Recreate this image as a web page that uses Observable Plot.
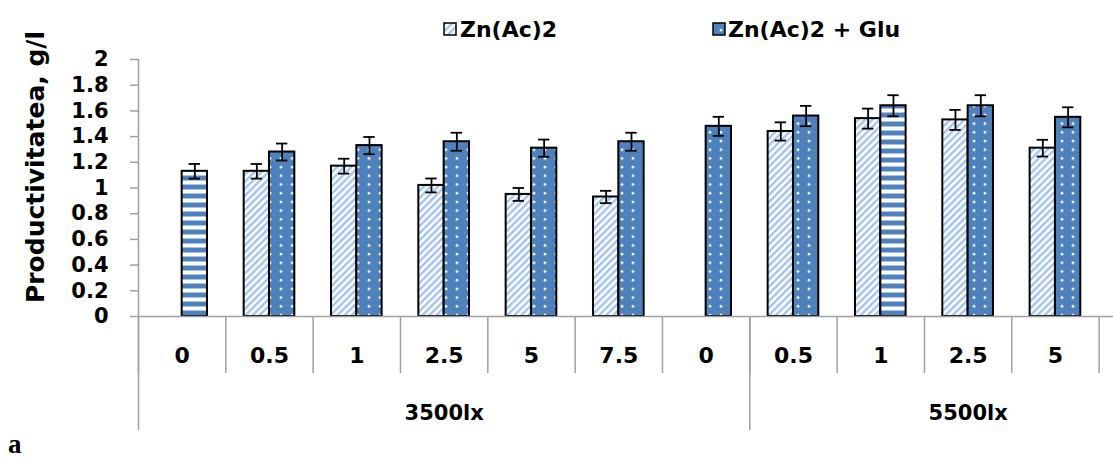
<!DOCTYPE html>
<html>
<head>
<meta charset="utf-8">
<script src="https://cdn.jsdelivr.net/npm/d3@7"></script>
<script src="https://cdn.jsdelivr.net/npm/@observablehq/plot@0.6"></script>
<style>
  html, body { margin: 0; padding: 0; background: #fff; overflow: hidden; }
  #wrap { position: relative; width: 1113px; height: 459px; overflow: hidden; }
  #legend, #chart, #caption { display: block; }
  #caption { height: 29px; }
  #chart svg { display: block; overflow: visible; }
</style>
</head>
<body>
<svg width="0" height="0" style="position:absolute">
  <defs>
    <pattern id="diag" patternUnits="userSpaceOnUse" width="5" height="5" patternTransform="rotate(45)">
      <rect width="5" height="5" fill="#ffffff"/>
      <rect width="2.4" height="5" fill="#a2c3ee"/>
    </pattern>
    <pattern id="dots" patternUnits="userSpaceOnUse" width="11" height="8.7">
      <rect width="11" height="8.7" fill="#4f81bd"/>
      <circle cx="6" cy="4" r="1.4" fill="#ffffff" fill-opacity="0.9"/>
    </pattern>
    <pattern id="hstripe" patternUnits="userSpaceOnUse" width="10" height="9">
      <rect width="10" height="9" fill="#ffffff"/>
      <rect y="0" width="10" height="4" fill="#4f81bd"/>
      <rect y="4" width="10" height="1" fill="#a9c3e4"/>
      <rect y="8" width="10" height="1" fill="#a9c3e4"/>
    </pattern>
  </defs>
</svg>
<div id="wrap">
  <div id="legend"></div>
  <div id="chart"></div>
  <div id="caption"></div>
</div>
<script>
// ---- data ----
const categories = ["0", "0.5", "1", "2.5", "5", "7.5", "0", "0.5", "1", "2.5", "5", "7.5"];
const groups = ["3500lx", "3500lx", "3500lx", "3500lx", "3500lx", "3500lx", "3500lx",
                "5500lx", "5500lx", "5500lx", "5500lx", "5500lx"];
const seriesNames = ["Zn(Ac)2", "Zn(Ac)2 + Glu"];
const znValues  = [null, 1.13, 1.17, 1.02, 0.95, 0.93, null, 1.44, 1.54, 1.53, 1.31, null];
const znErrors  = [null, 0.057, 0.058, 0.054, 0.05, 0.048, null, 0.071, 0.078, 0.078, 0.065, null];
const gluValues = [1.13, 1.28, 1.33, 1.36, 1.31, 1.36, 1.48, 1.56, 1.64, 1.64, 1.55, null];
const gluErrors = [0.057, 0.066, 0.067, 0.07, 0.067, 0.07, 0.074, 0.079, 0.082, 0.082, 0.078, null];
const yTicks = [0, 0.2, 0.4, 0.6, 0.8, 1, 1.2, 1.4, 1.6, 1.8, 2];
const yLabel = "Productivitatea, g/l";
const panelLabel = "a";

// ---- styling ----
const FONT = "DejaVu Sans";
const AXIS = "#a0a0a0";
const stripedGluIndex = [0, 8];  // Excel per-point pattern overrides
const BW = 0.29;                  // bar width in category units
const STEP = 87.33;               // pixels per category

const N = categories.length;
const rows = [];
for (let i = 0; i < N; i++) {
  if (znValues[i] != null) rows.push({i, s: 0, v: znValues[i], e: znErrors[i], fill: "url(#diag)"});
  if (gluValues[i] != null) rows.push({i, s: 1, v: gluValues[i], e: gluErrors[i],
    fill: stripedGluIndex.includes(i) ? "url(#hstripe)" : "url(#dots)"});
}
const x1 = d => d.i + 0.5 - (d.s === 0 ? BW : 0);
const x2 = d => d.i + 0.5 + (d.s === 1 ? BW : 0);
const xc = d => d.i + 0.5 + (d.s === 0 ? -BW / 2 : BW / 2);

// categories shown (the last one lies beyond the cropped right edge)
const labelled = d3.range(N).filter(i => znValues[i] != null || gluValues[i] != null);

// group boundaries and midpoints
const groupNames = [...new Set(groups)];
const groupStart = groupNames.map(g => groups.indexOf(g));
const groupEnd = groupNames.map(g => groups.lastIndexOf(g) + 1);
const groupMid = groupNames.map((g, k) => (groupStart[k] + groupEnd[k]) / 2);
const groupEdges = [...new Set([...groupStart, ...groupEnd])];

const chart = Plot.plot({
  width: 1113,
  height: 380,
  marginTop: 9,
  marginBottom: 114,
  marginLeft: 138,
  marginRight: 0,
  x: {type: "linear", domain: [0, N], range: [138, 138 + N * STEP]},
  y: {domain: [0, 2]},
  color: {type: "identity"},
  style: {fontFamily: FONT, fontWeight: "bold", color: "#000", background: "#fff", overflow: "visible"},
  marks: [
    // y axis
    Plot.axisY(yTicks, {tickSize: 8, tickPadding: 22, stroke: AXIS, strokeWidth: 1.5, fill: "#000",
      fontSize: 21, fontWeight: "bold", label: null,
      tickFormat: d => String(+d.toFixed(1))}),
    Plot.ruleX([0], {stroke: AXIS, strokeWidth: 1.5}),
    // x axis: category separators, group separators, labels
    Plot.axisX(d3.range(N + 1), {tickSize: 57, stroke: AXIS, strokeWidth: 1.5, tickFormat: () => "", label: null}),
    Plot.axisX(groupEdges, {tickSize: 114, stroke: AXIS, strokeWidth: 1.5, tickFormat: () => "", label: null}),
    Plot.axisX(labelled.map(i => i + 0.5), {tickSize: 0, tickPadding: 31, fill: "#000",
      fontSize: 22, fontWeight: "bold", tickFormat: d => categories[Math.floor(d)], label: null}),
    Plot.axisX(groupMid, {tickSize: 0, tickPadding: 89, fill: "#000",
      fontSize: 21, fontWeight: "bold", tickFormat: d => groupNames[groupMid.indexOf(d)], label: null}),
    // bars
    Plot.rect(rows, {x1, x2, y1: 0, y2: "v", fill: "fill", stroke: "#000", strokeWidth: 2}),
    Plot.ruleY([0], {stroke: AXIS, strokeWidth: 1.5}),
    // error bars
    Plot.ruleX(rows, {x: xc, y1: d => d.v - d.e, y2: d => d.v + d.e, stroke: "#000", strokeWidth: 1.8}),
    Plot.ruleY(rows, {y: d => d.v + d.e, x1: d => xc(d) - 0.065, x2: d => xc(d) + 0.065, stroke: "#000", strokeWidth: 1.8}),
    Plot.ruleY(rows, {y: d => d.v - d.e, x1: d => xc(d) - 0.065, x2: d => xc(d) + 0.065, stroke: "#000", strokeWidth: 1.8}),
    // y label
    Plot.text([yLabel], {frameAnchor: "left", textAnchor: "middle", rotate: -90, dx: -103, dy: -21,
      fontSize: 25, fontWeight: "bold", fill: "#000"})
  ]
});
document.getElementById("chart").appendChild(chart);

// ---- legend (above the plot) ----
const legendItems = [
  {label: seriesNames[0], fill: "url(#diag)", sx: 444, tx: 460},
  {label: seriesNames[1], fill: "url(#dots)", sx: 713, tx: 728}
];
const lg = d3.select("#legend").append("svg").attr("width", 1113).attr("height", 50).style("display", "block");
const it = lg.selectAll("g").data(legendItems).join("g");
it.append("rect").attr("x", d => d.sx).attr("y", 23).attr("width", 12).attr("height", 12)
  .attr("fill", d => d.fill).attr("stroke", "#000").attr("stroke-width", 1.5);
it.append("text").attr("x", d => d.tx).attr("y", 37).text(d => d.label)
  .attr("font-family", FONT).attr("font-weight", "bold").attr("font-size", 22).attr("fill", "#000");

// ---- panel caption (below the plot) ----
d3.select("#caption").append("svg").attr("width", 1113).attr("height", 29).style("display", "block")
  .append("text").attr("x", 8).attr("y", 22.5).text(panelLabel)
  .attr("font-family", "Liberation Serif").attr("font-weight", "bold").attr("font-size", 27).attr("fill", "#000");
</script>
</body>
</html>
